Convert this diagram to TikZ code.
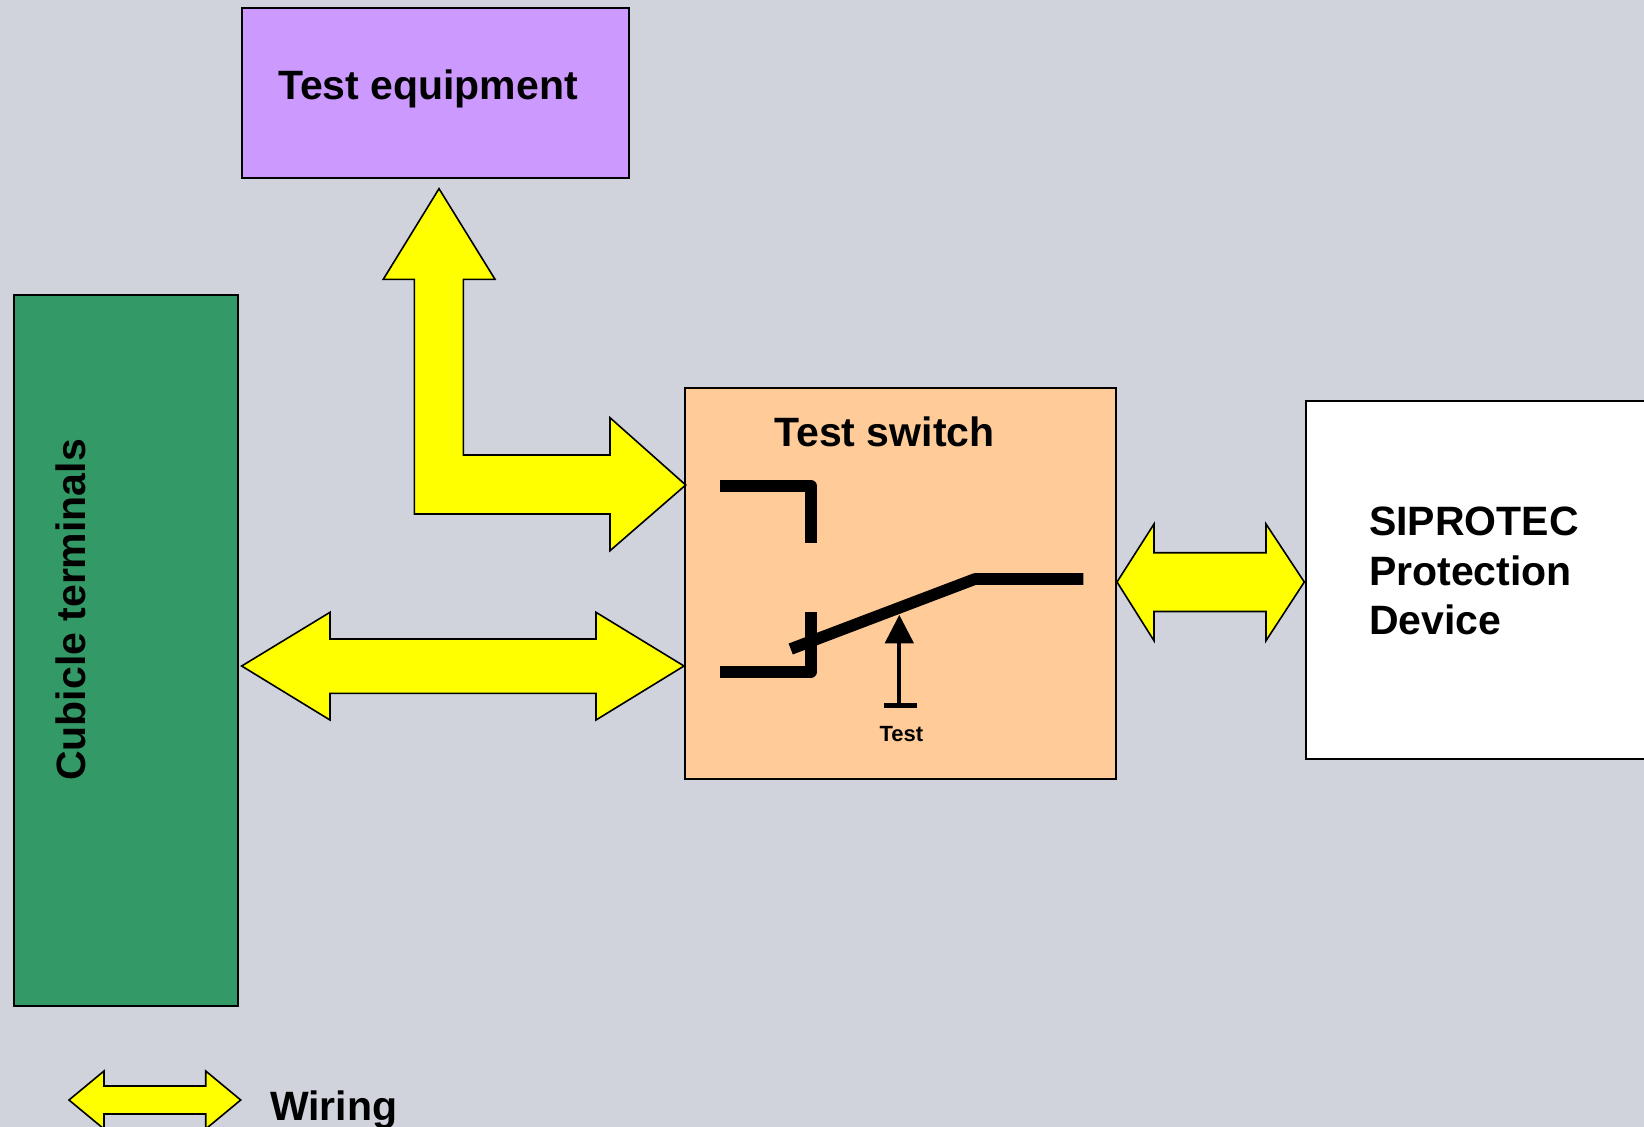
\documentclass[tikz,border=0pt]{standalone}
\usepackage{fontspec}
\setmainfont{Liberation Sans}
\definecolor{bgcol}{RGB}{208,211,220}
\definecolor{teqcol}{RGB}{204,153,255}
\definecolor{cubcol}{RGB}{51,153,102}
\definecolor{tscol}{RGB}{255,204,153}
\definecolor{wirecol}{RGB}{255,255,0}
\tikzset{
  box/.style={draw=black, line width=2pt, inner sep=0pt, outer sep=0pt},
  wire/.style={draw=black, fill=wirecol, line width=1.6pt, line join=miter},
  bigtxt/.style={font=\fontsize{41}{49}\selectfont\bfseries, inner sep=0pt, outer sep=0pt, text=black},
  smalltxt/.style={font=\fontsize{22}{26}\selectfont\bfseries, inner sep=0pt, outer sep=0pt, text=black},
  contact/.style={line width=11.7pt, line join=round, line cap=butt},
}
\begin{document}
\begin{tikzpicture}[x=1pt, y=-1pt]
\useasboundingbox (0,0) rectangle (1644,1127);
\clip (0,0) rectangle (1644,1127);
\fill[bgcol] (0,0) rectangle (1644,1127);

% boxes
\node[box, fill=teqcol, anchor=north west, minimum width=387pt, minimum height=169.7pt] (teq) at (242,8.3) {};
\node[box, fill=cubcol, anchor=north west, minimum width=224pt, minimum height=711.7pt] (cub) at (14,294.6) {};
\node[box, fill=tscol, anchor=north west, minimum width=431.5pt, minimum height=391.3pt] (ts) at (684.5,387.7) {};
\node[box, fill=white, anchor=north west, minimum width=360pt, minimum height=358.5pt] (sip) at (1305.7,400.5) {};

% texts
\node[bigtxt, anchor=base west] (teqlabel) at (278,99.3) {Test equipment};
\node[bigtxt, anchor=base, rotate=90] (cublabel) at (85,610) {Cubicle terminals};
\node[bigtxt, anchor=base west] (tslabel) at (774.3,446) {Test switch};
\node[bigtxt, anchor=base west] (sip1) at (1369,535.7) {SIPROTEC};
\node[bigtxt, anchor=base west] (sip2) at (1369,585) {Protection};
\node[bigtxt, anchor=base west] (sip3) at (1369,634) {Device};
\node[bigtxt, anchor=base west] (wirelabel) at (270,1120) {Wiring};
\node[smalltxt, anchor=base] (testlabel) at (901.3,741.7) {Test};

% wiring arrows
% test equipment <-> test switch (L-shaped)
\draw[wire] (439,188.7) -- (495,279.3) -- (463.3,279.3) -- (463.3,455) -- (610,455) -- (610,417.7)
  -- (685.7,485) -- (610,550.7) -- (610,514) -- (414.3,514) -- (414.3,279.3) -- (383.3,279.3) -- cycle;
% cubicle terminals <-> test switch
\draw[wire] (241.7,666) -- (330,612.3) -- (330,639) -- (596,639) -- (596,612.3) -- (684,666)
  -- (596,720) -- (596,693.3) -- (330,693.3) -- (330,720) -- cycle;
% test switch <-> SIPROTEC
\draw[wire] (1117,582) -- (1154,524) -- (1154,552.7) -- (1266,552.7) -- (1266,524) -- (1304.3,582)
  -- (1266,640.7) -- (1266,611.5) -- (1154,611.5) -- (1154,640.7) -- cycle;
% legend
\draw[wire] (69,1100) -- (104,1071) -- (104,1086) -- (205.7,1086) -- (205.7,1071) -- (240.7,1100)
  -- (205.7,1129) -- (205.7,1114) -- (104,1114) -- (104,1129) -- cycle;

% switch symbol
\draw[contact] (720,486) -- (811,486) -- (811,542.7);
\draw[contact] (720,671.7) -- (811,671.7) -- (811,612.3);
\draw[contact] (790.7,649) -- (975,579) -- (1083.3,579);
% test actuator
\draw[line width=4pt] (899.3,705.8) -- (899.3,640);
\fill (899.3,615) -- (914,643.3) -- (884.6,643.3) -- cycle;
\draw[line width=5pt] (884,705.8) -- (916.7,705.8);
\end{tikzpicture}
\end{document}
